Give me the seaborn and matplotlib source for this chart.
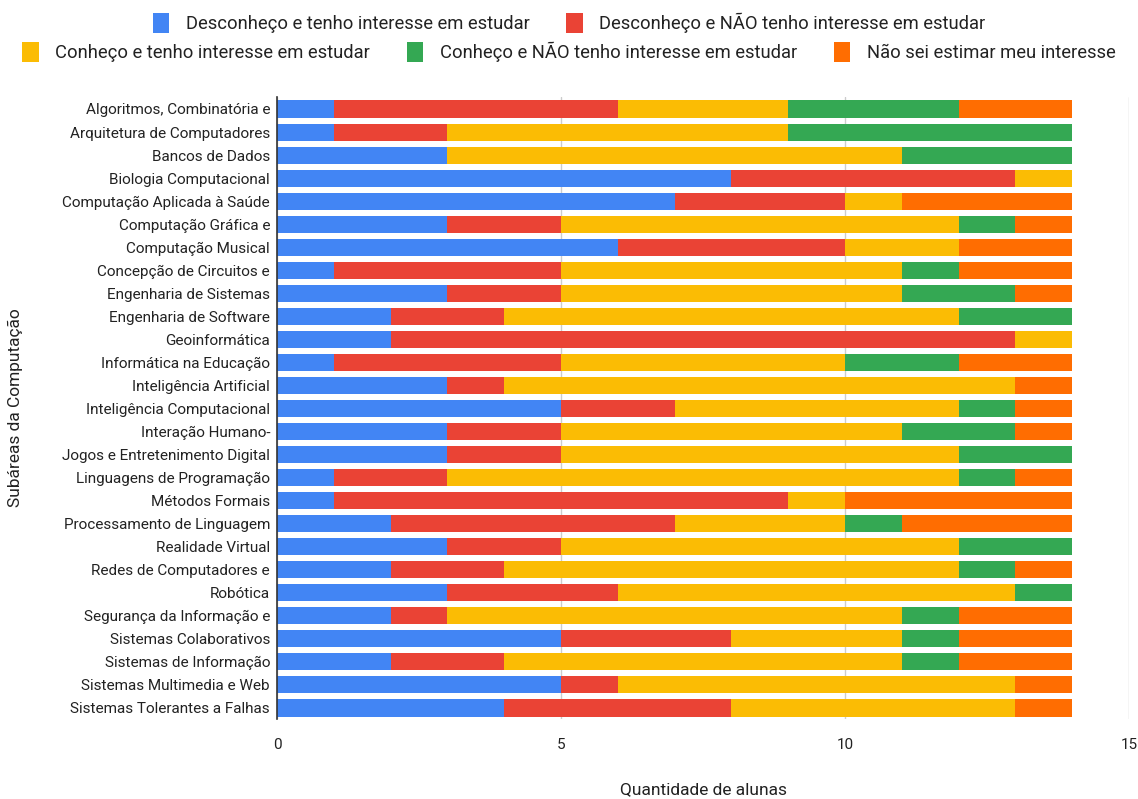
import matplotlib
matplotlib.use("Agg")
import matplotlib.pyplot as plt
import seaborn as sns
import pandas as pd
import numpy as np
from matplotlib.patches import Patch

categories = [
    "Algoritmos, Combinatória e",
    "Arquitetura de Computadores",
    "Bancos de Dados",
    "Biologia Computacional",
    "Computação Aplicada à Saúde",
    "Computação Gráfica e",
    "Computação Musical",
    "Concepção de Circuitos e",
    "Engenharia de Sistemas",
    "Engenharia de Software",
    "Geoinformática",
    "Informática na Educação",
    "Inteligência Artificial",
    "Inteligência Computacional",
    "Interação Humano-",
    "Jogos e Entretenimento Digital",
    "Linguagens de Programação",
    "Métodos Formais",
    "Processamento de Linguagem",
    "Realidade Virtual",
    "Redes de Computadores e",
    "Robótica",
    "Segurança da Informação e",
    "Sistemas Colaborativos",
    "Sistemas de Informação",
    "Sistemas Multimedia e Web",
    "Sistemas Tolerantes a Falhas",
]

desconheco_interesse = [1, 1, 3, 8, 7, 3, 6, 1, 3, 2, 2, 1, 3, 5, 3, 3, 1, 1, 2, 3, 2, 3, 2, 5, 2, 5, 4]
desconheco_sem_interesse = [5, 2, 0, 5, 3, 2, 4, 4, 2, 2, 11, 4, 1, 2, 2, 2, 2, 8, 5, 2, 2, 3, 1, 3, 2, 1, 4]
conheco_interesse = [3, 6, 8, 1, 1, 7, 2, 6, 6, 8, 1, 5, 9, 5, 6, 7, 9, 1, 3, 7, 8, 7, 8, 3, 7, 7, 5]
conheco_sem_interesse = [3, 5, 3, 0, 0, 1, 0, 1, 2, 2, 0, 2, 0, 1, 2, 2, 1, 0, 1, 2, 1, 1, 1, 1, 1, 0, 0]
nao_sei = [2, 0, 0, 0, 3, 1, 2, 2, 1, 0, 0, 2, 1, 1, 1, 0, 1, 4, 3, 0, 1, 0, 2, 2, 2, 1, 1]

series_labels = [
    "Desconheço e tenho interesse em estudar",
    "Desconheço e NÃO tenho interesse em estudar",
    "Conheço e tenho interesse em estudar",
    "Conheço e NÃO tenho interesse em estudar",
    "Não sei estimar meu interesse",
]
colors = ["#4285F4", "#EA4335", "#FBBC04", "#34A853", "#FF6D01"]

x_ticks = [0, 5, 10, 15]

sns.set_theme(style="white")
plt.rcParams["font.family"] = ["Roboto", "DejaVu Sans"]

series = [desconheco_interesse, desconheco_sem_interesse, conheco_interesse,
          conheco_sem_interesse, nao_sei]
cum = np.cumsum(np.array(series), axis=0)

fig = plt.figure(figsize=(11.38, 7.99), dpi=100)
ax = fig.add_axes([0.2434, 0.0995, 0.7486, 0.7785])

# draw from the full stack down to the first segment so each layer covers the previous
for i in range(len(series) - 1, -1, -1):
    df = pd.DataFrame({"categoria": categories, "valor": cum[i]})
    sns.barplot(data=df, x="valor", y="categoria", orient="h", color=colors[i],
                saturation=1, width=0.74, ax=ax, linewidth=0, order=categories)

ax.set_xlim(0, 15)
ax.set_ylim(len(categories) - 0.5, -0.5)
ax.set_xticks(x_ticks)
ax.set_xticklabels([str(t) for t in x_ticks], fontsize=11, color="#222222")
ax.tick_params(axis="both", length=0)
ax.tick_params(axis="x", pad=13)
ax.tick_params(axis="y", pad=5, labelsize=11, labelcolor="#222222")
ax.xaxis.grid(True, color="#cccccc", linewidth=1)
ax.set_axisbelow(True)
for s in ["top", "right", "bottom"]:
    ax.spines[s].set_visible(False)
ax.spines["left"].set_color("#333333")
ax.spines["left"].set_linewidth(1.2)

ax.set_xlabel("")
ax.set_ylabel("")
fig.text(703 / 1138, 1 - 790 / 799, "Quantidade de alunas", fontsize=12.5,
         color="#222222", ha="center", va="center")
fig.text(15 / 1138, 1 - 408 / 799, "Subáreas da Computação", fontsize=12.5,
         color="#222222", ha="center", va="center", rotation=90)

handles = [Patch(facecolor=c, edgecolor="none") for c in colors]
leg_kw = dict(frameon=False, fontsize=13.2, handlelength=0.9, handleheight=1.3,
              handletextpad=0.9, columnspacing=2.0, labelcolor="#222222")
leg1 = fig.legend(handles[:2], series_labels[:2], ncol=2, loc="center",
                  bbox_to_anchor=(0.5, 1 - 23 / 799), **leg_kw)
leg2 = fig.legend(handles[2:], series_labels[2:], ncol=3, loc="center",
                  bbox_to_anchor=(0.5, 1 - 52 / 799), **leg_kw)

fig.savefig("out.png", dpi=100, facecolor="white")
